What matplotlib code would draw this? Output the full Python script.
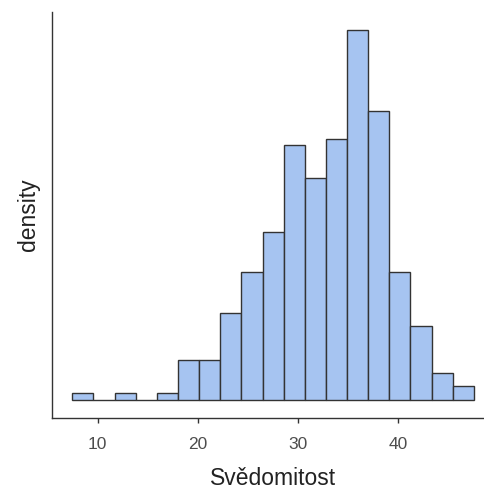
import numpy as np
import matplotlib
matplotlib.use("Agg")
import matplotlib.pyplot as plt

plt.rcParams['font.family'] = ['Liberation Sans', 'DejaVu Sans']

# Histogram of the conscientiousness score (Svědomitost)
bin_edges = [7.47, 9.58, 11.69, 13.81, 15.92, 18.03, 20.14, 22.25, 24.37, 26.48,
             28.59, 30.70, 32.81, 34.93, 37.04, 39.15, 41.26, 43.37, 45.49, 47.60]
counts = [1, 0, 1, 0, 1, 6, 6, 13, 19, 25, 38, 33, 39, 55, 43, 19, 11, 4, 2]
x_ticks = [10, 20, 30, 40]

fill_color = '#A6C4F1'
edge_color = '#333333'

edges = np.array(bin_edges)
centers = (edges[:-1] + edges[1:]) / 2

W, H = 484, 493
fig = plt.figure(figsize=(W / 100, H / 100), dpi=100)
left, right, top, bottom = 52.3, 494.0, 12.0, 418.3
ax = fig.add_axes([left / W, 1 - bottom / H, (right - left) / W, (bottom - top) / H])

dens, _, _ = ax.hist(centers, bins=edges, weights=counts, density=True,
                     facecolor=fill_color, edgecolor=edge_color, linewidth=1.0)

# ggplot-style 5% expansion on both axes
xr = edges[-1] - edges[0]
ax.set_xlim(edges[0] - 0.05 * xr, edges[-1] + 0.05 * xr)
ymax = dens.max()
ax.set_ylim(-0.05 * ymax, 1.05 * ymax)

for s in ['top', 'right']:
    ax.spines[s].set_visible(False)
for s in ['left', 'bottom']:
    ax.spines[s].set_color('#333333')
    ax.spines[s].set_linewidth(1.0)

ax.set_xticks(x_ticks)
ax.set_xticklabels([str(t) for t in x_ticks])
ax.set_yticks([])
ax.tick_params(axis='x', length=3.5, width=1.0, color='#333333',
               labelsize=12.5, labelcolor='#4D4D4D', pad=10)

ax.set_xlabel('Svědomitost', fontsize=16.5, color='#222222', labelpad=11)
ax.set_ylabel('density', fontsize=16.5, color='#222222', labelpad=9)

fig.savefig('out.png', dpi=100)
